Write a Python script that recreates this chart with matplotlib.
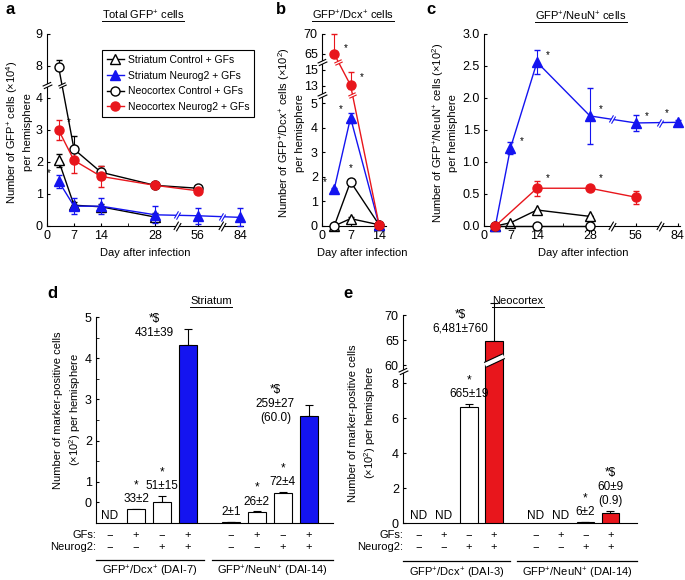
import numpy as np
import matplotlib
matplotlib.use('Agg')
import matplotlib.pyplot as plt
from matplotlib.path import Path
from matplotlib.lines import Line2D

plt.rcParams['font.family'] = ['Liberation Sans', 'DejaVu Sans']
plt.rcParams['mathtext.fontset'] = 'custom'
plt.rcParams['mathtext.rm'] = 'Liberation Sans'
plt.rcParams['mathtext.it'] = 'Liberation Sans:italic'
plt.rcParams['mathtext.bf'] = 'Liberation Sans:bold'
plt.rcParams['font.size'] = 8
plt.rcParams['xtick.labelsize'] = 9
plt.rcParams['ytick.labelsize'] = 9
plt.rcParams['axes.linewidth'] = 0.8
plt.rcParams['xtick.direction'] = 'in'
plt.rcParams['ytick.direction'] = 'in'
plt.rcParams['xtick.major.size'] = 2.5
plt.rcParams['ytick.major.size'] = 2.5
plt.rcParams['xtick.minor.size'] = 2.5
plt.rcParams['ytick.minor.size'] = 1.8
plt.rcParams['xtick.major.pad'] = 3
plt.rcParams['ytick.major.pad'] = 3

BLUE = '#1414f0'
RED = '#e8161c'

series = ['Striatum Control + GFs', 'Striatum Neurog2 + GFs',
          'Neocortex Control + GFs', 'Neocortex Neurog2 + GFs']

# panel a: total GFP+ cells (x10^4)
a_days = [[3, 7, 14, 28], [3, 7, 14, 28, 56, 84], [3, 7, 14, 28, 56], [3, 7, 14, 28, 56]]
a_vals = [[2.05, 0.65, 0.6, 0.28], [1.4, 0.62, 0.62, 0.35, 0.32, 0.27],
          [7.9, 2.4, 1.68, 1.27, 1.18], [3.0, 2.05, 1.55, 1.27, 1.1]]
a_errs = [[0.2, 0.1, 0.1, 0.12], [0.2, 0.25, 0.25, 0.27, 0.25, 0.28],
          [0.3, 0.4, 0.2, 0.05, 0.05], [0.3, 0.4, 0.33, 0.05, 0.1]]

# panel b: GFP+/Dcx+ cells (x10^2)
b_days = [[3, 7, 14], [3, 7, 14], [3, 7, 14], [3, 7, 14]]
b_vals = [[0.0, 0.3, 0.05], [1.5, 4.4, 0.05], [0.0, 1.8, 0.05], [64.8, 13.1, 0.05]]
b_errs = [[0.03, 0.05, 0.02], [0.05, 0.2, 0.02], [0.02, 0.1, 0.02], [5.2, 1.65, 0.02]]

# panel c: GFP+/NeuN+ cells (x10^2)
c_days = [[3, 7, 14, 28], [3, 7, 14, 28, 56, 84], [3, 14, 28], [3, 14, 28, 56]]
c_vals = [[0.0, 0.05, 0.25, 0.15], [0.0, 1.22, 2.56, 1.72, 1.61, 1.62],
          [0.0, 0.0, 0.0], [0.0, 0.59, 0.59, 0.45]]
c_errs = [[0, 0, 0, 0], [0.05, 0.1, 0.19, 0.44, 0.12, 0.03],
          [0, 0, 0], [0.05, 0.12, 0.03, 0.1]]

# panels d, e: marker-positive cells per hemisphere
gfs_on = [0, 1, 0, 1]
ng2_on = [0, 0, 1, 1]
d_dcx = [0, 33, 51, 431]
d_dcx_err = [0, 2, 15, 39]
d_neun = [2, 26, 72, 259]
d_neun_err = [1, 2, 4, 27]
d_dcx_sig = ['', '*', '*', '*$']
d_neun_sig = ['', '*', '*', '*$']
d_neun_note = ['', '', '', '(60.0)']
e_dcx = [0, 0, 665, 6481]
e_dcx_err = [0, 0, 19, 760]
e_neun = [0, 0, 6, 60]
e_neun_err = [0, 0, 2, 9]
e_dcx_sig = ['', '', '*', '*$']
e_neun_sig = ['', '', '*', '*$']
e_neun_note = ['', '', '', '(0.9)']

styles = [dict(color='k', marker='^', mfc='white', mec='k'),
          dict(color=BLUE, marker='^', mfc=BLUE, mec=BLUE),
          dict(color='k', marker='o', mfc='white', mec='k'),
          dict(color=RED, marker='o', mfc=RED, mec=RED)]
order = [0, 2, 1, 3]

W, H = 685, 580
fig = plt.figure(figsize=(6.85, 5.8), dpi=100)


def px_axes(l, t, r, b):
    ax = fig.add_axes([l / W, 1 - b / H, (r - l) / W, (b - t) / H])
    ax.spines[['top', 'right']].set_visible(False)
    return ax


def ftext(x, y, s, **kw):
    return fig.text(x / W, 1 - y / H, s, **kw)


def seg_scale(src, dst):
    def make(xa, ya):
        xa = np.asarray(xa, float)
        ya = np.asarray(ya, float)

        def f(v):
            v = np.asarray(v, float)
            out = np.interp(v, xa, ya)
            out = np.where(v < xa[0], ya[0] + (v - xa[0]) * (ya[1] - ya[0]) / (xa[1] - xa[0]), out)
            out = np.where(v > xa[-1], ya[-1] + (v - xa[-1]) * (ya[-1] - ya[-2]) / (xa[-1] - xa[-2]), out)
            return out
        return f
    return make(src, dst), make(dst, src)


def slash_paths(angle, g=0.3):
    a = np.radians(angle)
    d = np.array([np.cos(a), np.sin(a)])
    n = np.array([-np.sin(a), np.cos(a)])
    p1, p2, p3, p4 = -d - g * n, d - g * n, d + g * n, -d + g * n
    lines = Path([p1, p2, p4, p3], [Path.MOVETO, Path.LINETO, Path.MOVETO, Path.LINETO])
    mask = Path([p1, p2, p3, p4, p1], [Path.MOVETO, Path.LINETO, Path.LINETO, Path.LINETO, Path.CLOSEPOLY])
    return lines, mask


def brk(ax, x, y, angle, ms=7, color='k', transform=None, g=0.3):
    tr = transform if transform is not None else ax.transData
    lines, mask = slash_paths(angle, g)
    ax.plot([x], [y], ls='none', marker=mask, ms=ms, mfc='white', mec='none',
            transform=tr, clip_on=False, zorder=8)
    ax.plot([x], [y], ls='none', marker=lines, ms=ms, mfc='none', mec=color, mew=0.8,
            transform=tr, clip_on=False, zorder=9)


def line_break(ax, p0, p1, val, axis, angle, color):
    T = ax.transData
    d0 = T.transform(p0)
    d1 = T.transform(p1)
    if axis == 'y':
        b = T.transform((p0[0], val))[1]
        t = (b - d0[1]) / (d1[1] - d0[1])
    else:
        b = T.transform((val, p0[1]))[0]
        t = (b - d0[0]) / (d1[0] - d0[0])
    x, y = T.inverted().transform(d0 + t * (d1 - d0))
    brk(ax, x, y, angle, ms=6, color=color)


def unclip(container):
    for art in container.get_children():
        art.set_clip_on(False)


def draw_lines(ax, days, vals, errs):
    for i in order:
        st = styles[i]
        eb = ax.errorbar(days[i], vals[i], yerr=errs[i], color=st['color'], marker=st['marker'],
                         mfc=st['mfc'], mec=st['mec'], ms=6.5, mew=1, lw=1, elinewidth=0.8,
                         capsize=2.5, capthick=0.8, zorder=3 + i * 0.1)
        unclip(eb)


def star(ax, x, y, dx, dy):
    ax.annotate('*', (x, y), xytext=(dx, dy), textcoords='offset points',
                ha='center', va='center', fontsize=7)


# ---------------- panel a ----------------
axa = px_axes(47, 34, 243, 226)
axa.set_xscale('function', functions=seg_scale([0, 28, 56, 84], [0, 28, 39.1, 50]))
axa.set_yscale('function', functions=seg_scale([0, 4, 8, 9], [0, 4, 5, 6]))
axa.set_xlim(0, 86)
axa.set_ylim(0, 9)
axa.set_xticks([0, 7, 14, 28, 56, 84])
axa.set_xticks([21], minor=True)
axa.set_yticks([0, 1, 2, 3, 4, 8, 9])
draw_lines(axa, a_days, a_vals, a_errs)
brk(axa, 0, 5.6, 25, transform=axa.get_yaxis_transform())
for xb in (42.4, 71.9):
    brk(axa, xb, 0, 60, transform=axa.get_xaxis_transform())
line_break(axa, (3, 7.9), (7, 2.4), 5.6, 'y', 25, 'k')
line_break(axa, (28, 0.35), (56, 0.32), 42.4, 'x', 60, BLUE)
line_break(axa, (56, 0.32), (84, 0.27), 71.9, 'x', 60, BLUE)
star(axa, 3, 3.0, 7, 6)
star(axa, 3, 1.4, -7, 6)

handles = [Line2D([], [], color=s['color'], marker=s['marker'], mfc=s['mfc'], mec=s['mec'],
                  ms=6.5, mew=1, lw=1) for s in styles]
leg = fig.legend(handles, series, loc='upper left', bbox_to_anchor=(97 / W, 1 - 45 / H),
                 fontsize=7.5, frameon=True, fancybox=False, framealpha=1, edgecolor='k',
                 borderpad=0.45, handlelength=1.6, handletextpad=0.4, labelspacing=0.55)
leg.get_frame().set_linewidth(0.8)

# ---------------- panel b ----------------
axb = px_axes(322, 34, 386, 226)
axb.set_yscale('function', functions=seg_scale([0, 5, 13, 15, 65, 70], [0, 123, 140, 156, 172, 192]))
axb.set_xlim(0, 15.7)
axb.set_ylim(0, 70)
axb.set_xticks([0, 7, 14])
axb.set_yticks([0, 1, 2, 3, 4, 5, 13, 15, 65, 70])
draw_lines(axb, b_days, b_vals, b_errs)
for yb in (9, 40):
    brk(axb, 0, yb, 25, transform=axb.get_yaxis_transform())
line_break(axb, (3, 64.8), (7, 13.1), 40, 'y', 25, RED)
line_break(axb, (7, 13.1), (14, 0.05), 9, 'y', 25, RED)
star(axb, 3, 64.8, 8, 4)
star(axb, 7, 13.1, 8, 6)
star(axb, 3, 1.5, -7, 5)
star(axb, 7, 4.4, -7, 6)
star(axb, 7, 1.8, 0, 10)

# ---------------- panel c ----------------
axc = px_axes(484, 34, 680, 226)
axc.set_xscale('function', functions=seg_scale([0, 28, 56, 84], [0, 28, 40.1, 51.2]))
axc.set_xlim(0, 85.5)
axc.set_ylim(0, 3)
axc.set_xticks([0, 7, 14, 28, 56, 84])
axc.set_xticks([21], minor=True)
axc.set_yticks(np.arange(0, 3.01, 0.5))
axc.set_yticklabels([f'{v:.1f}' for v in np.arange(0, 3.01, 0.5)])
draw_lines(axc, c_days, c_vals, c_errs)
for xb in (41.5, 72.5):
    brk(axc, xb, 0, 60, transform=axc.get_xaxis_transform())
line_break(axc, (28, 1.72), (56, 1.61), 41.5, 'x', 60, BLUE)
line_break(axc, (56, 1.61), (84, 1.62), 72.5, 'x', 60, BLUE)
for d, v in zip([7, 14, 28, 56], [1.22, 2.56, 1.72, 1.61]):
    star(axc, d, v, 8, 5)
star(axc, 84, 1.62, -8, 7)
star(axc, 14, 0.59, 8, 7)
star(axc, 28, 0.59, 8, 7)

# ---------------- bar panels ----------------
xpos = [0, 1, 2, 3, 4.65, 5.65, 6.65, 7.65]


def bar_panel(ax, groups, errs, sigs, notes, side, colour, rows):
    vals = np.concatenate(groups) / 100.0
    err = np.concatenate(errs) / 100.0
    cols = ['white', 'white', 'white', colour] * 2
    for x, v, e, c in zip(xpos, vals, err, cols):
        if v <= 0:
            continue
        ax.bar(x, v, width=0.7, color=c, edgecolor='k', lw=0.8, zorder=3)
        eb = ax.errorbar([x], [v], yerr=[[0], [e]], fmt='none', ecolor='k', elinewidth=0.8,
                         capsize=3, capthick=0.8, zorder=2)
        unclip(eb)
    raw = np.concatenate(groups)
    rawe = np.concatenate(errs)
    for k, x in enumerate(xpos):
        v, e = raw[k], rawe[k]
        if v == 0:
            ax.annotate('ND', (x, 0), xytext=(0, 5), textcoords='offset points',
                        ha='center', va='center', fontsize=8.5)
            continue
        lines = [sigs[k], f'{v:,}\u00b1{e:,}', notes[k]]
        lines = [s for s in lines if s]
        if side[k]:
            anchor = (x, v / 100.0)
            ys = [19 - 10 * j for j in range(len(lines))]
            dx = -24
        else:
            anchor = (x, (v + e) / 100.0)
            ys = [7 + 10 * j for j in range(len(lines))][::-1]
            dx = 0
        for s, dy in zip(lines, ys):
            ax.annotate(s, anchor, xytext=(dx, dy), textcoords='offset points',
                        ha='center', va='center', annotation_clip=False, fontsize=8.5)
    tr = ax.get_xaxis_transform()
    ax.text(0, rows[0], 'GFs:', transform=ax.transAxes, ha='right', va='center')
    ax.text(0, rows[1], 'Neurog2:', transform=ax.transAxes, ha='right', va='center')
    for k, x in enumerate(xpos):
        ax.text(x, rows[0], '+' if gfs_on[k % 4] else '\u2212', transform=tr, ha='center', va='center')
        ax.text(x, rows[1], '+' if ng2_on[k % 4] else '\u2212', transform=tr, ha='center', va='center')
    lo, hi = ax.get_xlim()
    mid = (xpos[3] + xpos[4]) / 2
    for a0, a1 in ((lo, mid - 0.2), (mid + 0.1, hi)):
        ax.plot([a0, a1], [rows[2], rows[2]], color='k', lw=0.9, transform=tr, clip_on=False)
    return (lo + mid - 0.2) / 2, (mid + 0.1 + hi) / 2


axd = px_axes(96, 317, 333, 523)
axd.set_xlim(-0.54, 8.58)
axd.set_ylim(0, 5)
axd.set_xticks([])
axd.set_yticks([0.5, 1, 2, 3, 4, 5])
axd.set_yticklabels(['0', '1', '2', '3', '4', '5'])
axd.set_yticks([1.5, 2.5, 3.5, 4.5], minor=True)
c1, c2 = bar_panel(axd, [d_dcx, d_neun], [d_dcx_err, d_neun_err],
                   d_dcx_sig + d_neun_sig, ['', '', '', ''] + d_neun_note,
                   [False, False, False, True, False, False, False, True], BLUE,
                   (-0.058, -0.117, -0.18))
trd = axd.get_xaxis_transform()
axd.text(c1, -0.235, 'GFP$^{+}$/Dcx$^{+}$ (DAI-7)', transform=trd, ha='center', va='center')
axd.text(c2, -0.235, 'GFP$^{+}$/NeuN$^{+}$ (DAI-14)', transform=trd, ha='center', va='center')

axe = px_axes(403, 315, 637, 523)
axe.set_yscale('function', functions=seg_scale([0, 8, 60, 75], [0, 139, 157, 232]))
axe.set_xlim(-0.64, 8.72)
axe.set_ylim(0, 70)
axe.set_xticks([])
axe.set_yticks([0, 2, 4, 6, 8, 60, 65, 70])
c1, c2 = bar_panel(axe, [e_dcx, e_neun], [e_dcx_err, e_neun_err],
                   e_dcx_sig + e_neun_sig, ['', '', '', ''] + e_neun_note,
                   [False, False, False, True, False, False, False, False], RED,
                   (-0.058, -0.115, -0.185))
tre = axe.get_xaxis_transform()
axe.text(c1, -0.24, 'GFP$^{+}$/Dcx$^{+}$ (DAI-3)', transform=tre, ha='center', va='center')
axe.text(c2, -0.24, 'GFP$^{+}$/NeuN$^{+}$ (DAI-14)', transform=tre, ha='center', va='center')
brk(axe, 0, 43, 25, transform=axe.get_yaxis_transform())
brk(axe, xpos[3], 61, 25, ms=15, g=0.25)

# ---------------- labels ----------------
for x, y, s in [(10, 10, 'a'), (281, 9, 'b'), (431, 10, 'c'), (52, 293, 'd'), (348, 294, 'e')]:
    ftext(x, y, s, weight='bold', size=12, ha='center', va='center')

titles = []
for x, y, s in [(143, 15, 'Total GFP$^{+}$ cells'), (353, 15, 'GFP$^{+}$/Dcx$^{+}$ cells'),
                (581, 16, 'GFP$^{+}$/NeuN$^{+}$ cells'), (211, 301, 'Striatum'),
                (518, 301, 'Neocortex')]:
    titles.append((ftext(x, y, s, ha='center', va='center'), y))

for x in (145, 362, 583):
    ftext(x, 253, 'Day after infection', ha='center', va='center')

ylabs = [(18.5, 132, 'Number of GFP$^{+}$ cells (\u00d710$^{4}$)\nper hemisphere'),
         (291, 133, 'Number of GFP$^{+}$/Dcx$^{+}$ cells (\u00d710$^{2}$)\nper hemisphere'),
         (444, 133, 'Number of GFP$^{+}$/NeuN$^{+}$ cells (\u00d710$^{2}$)\nper hemisphere'),
         (68, 410, 'Number of marker-positive cells\n(\u00d710$^{2}$) per hemisphere'),
         (363, 423, 'Number of marker-positive cells\n(\u00d710$^{2}$) per hemisphere')]
for x, y, s in ylabs:
    ftext(x, y, s, rotation=90, ha='center', va='center', linespacing=1.35)

fig.canvas.draw()
r = fig.canvas.get_renderer()
for t, y in titles:
    bb = t.get_window_extent(r)
    yy = 1 - (y + 6) / H
    fig.add_artist(Line2D([bb.x0 / fig.bbox.width, bb.x1 / fig.bbox.width], [yy, yy],
                          transform=fig.transFigure, color='k', lw=0.7))

fig.savefig('out.png', dpi=100)
